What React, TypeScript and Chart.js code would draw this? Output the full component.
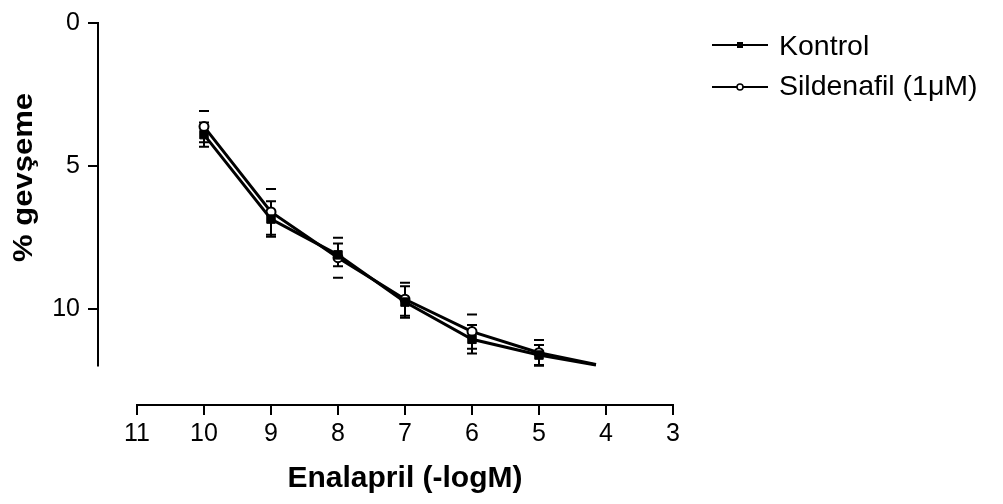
import React, { useEffect, useRef } from "react";
import { Chart, registerables } from "chart.js";

Chart.register(...registerables);

// ---- data ----
const doses = [10, 9, 8, 7, 6, 5];
const kontrol = [3.9, 6.85, 8.1, 9.75, 11.05, 11.6];
const kontrolSem = [0.42, 0.62, 0.4, 0.55, 0.5, 0.35];
const sildenafil = [3.62, 6.6, 8.2, 9.65, 10.78, 11.52];
const sildenafilSem = [0.55, 0.8, 0.7, 0.58, 0.6, 0.45];
const fitEndDose = 4.15;
const kontrolFitEnd = 11.95;
const sildenafilFitEnd = 11.93;
const xTicks = [11, 10, 9, 8, 7, 6, 5, 4, 3];
const yTicks = [0, 5, 10];
const yAxisEnd = 12;
const seriesLabels = ["Kontrol", "Sildenafil (1\u03bcM)"];
const xTitle = "Enalapril (-logM)";
const yTitle = "% gev\u015feme";

const FONT = '"Liberation Sans", Arial, Helvetica, sans-serif';

const toPoints = (vals: number[], end: number) =>
  [...vals.map((v, i) => ({ x: doses[i], y: v })), { x: fitEndDose, y: end }];

const decorPlugin = {
  id: "decor",
  beforeDatasetsDraw(chart: any) {
    const { ctx, scales } = chart;
    const x = scales.x;
    const y = scales.y;
    ctx.save();
    ctx.strokeStyle = "#000";
    ctx.lineWidth = 2;
    const drawBars = (vals: number[], errs: number[], stem: boolean) => {
      vals.forEach((v, i) => {
        const px = x.getPixelForValue(doses[i]);
        const top = y.getPixelForValue(v - errs[i]);
        const bot = y.getPixelForValue(v + errs[i]);
        ctx.beginPath();
        if (stem) {
          ctx.moveTo(px, top);
          ctx.lineTo(px, bot);
        }
        ctx.moveTo(px - 5, top);
        ctx.lineTo(px + 5, top);
        ctx.moveTo(px - 5, bot);
        ctx.lineTo(px + 5, bot);
        ctx.stroke();
      });
    };
    drawBars(kontrol, kontrolSem, true);
    drawBars(sildenafil, sildenafilSem, false);
    ctx.restore();
  },
  afterDraw(chart: any) {
    const { ctx, scales, chartArea } = chart;
    const x = scales.x;
    const y = scales.y;
    ctx.save();
    ctx.strokeStyle = "#000";
    ctx.fillStyle = "#000";
    ctx.lineWidth = 2;
    // axis lines
    ctx.beginPath();
    ctx.moveTo(chartArea.left, y.getPixelForValue(0) - 1);
    ctx.lineTo(chartArea.left, y.getPixelForValue(yAxisEnd));
    ctx.moveTo(x.getPixelForValue(xTicks[0]) - 1, chartArea.bottom);
    ctx.lineTo(x.getPixelForValue(xTicks[xTicks.length - 1]) + 1, chartArea.bottom);
    ctx.stroke();

    // x title
    const xc = (x.getPixelForValue(xTicks[0]) + x.getPixelForValue(xTicks[xTicks.length - 1])) / 2;
    ctx.font = `bold 30px ${FONT}`;
    ctx.textAlign = "center";
    ctx.textBaseline = "alphabetic";
    ctx.fillText(xTitle, xc, 487);

    // y title (rotated)
    ctx.save();
    ctx.translate(32, 177.5);
    ctx.rotate(-Math.PI / 2);
    ctx.font = `bold 27px ${FONT}`;
    const w = ctx.measureText(yTitle).width;
    ctx.scale(169 / w, 1);
    ctx.fillText(yTitle, 0, 0);
    ctx.restore();

    // legend
    const rows = [45, 87];
    const baselines = [55, 95];
    ctx.font = `28.5px ${FONT}`;
    ctx.textAlign = "left";
    rows.forEach((ry, i) => {
      ctx.beginPath();
      ctx.lineWidth = 2;
      ctx.moveTo(712, ry);
      ctx.lineTo(768, ry);
      ctx.stroke();
      if (i === 0) {
        ctx.fillRect(737, ry - 3, 6, 6);
      } else {
        ctx.beginPath();
        ctx.arc(740, ry, 3, 0, Math.PI * 2);
        ctx.fillStyle = "#fff";
        ctx.fill();
        ctx.lineWidth = 1.5;
        ctx.stroke();
        ctx.fillStyle = "#000";
      }
      ctx.fillText(seriesLabels[i], 779, baselines[i]);
    });
    ctx.restore();
  },
};

export default function App() {
  const ref = useRef<HTMLCanvasElement>(null);
  useEffect(() => {
    if (!ref.current) return;
    const chart = new Chart(ref.current, {
      type: "line",
      data: {
        datasets: [
          {
            label: seriesLabels[0],
            data: toPoints(kontrol, kontrolFitEnd),
            borderColor: "#000",
            backgroundColor: "#000",
            borderWidth: 3,
            pointStyle: "rect",
            pointRadius: [...doses.map(() => 6), 0],
            pointBorderWidth: 1,
            pointBackgroundColor: "#000",
            pointBorderColor: "#000",
            tension: 0,
          },
          {
            label: seriesLabels[1],
            data: toPoints(sildenafil, sildenafilFitEnd),
            borderColor: "#000",
            backgroundColor: "#fff",
            borderWidth: 3,
            pointStyle: "circle",
            pointRadius: [...doses.map(() => 4.5), 0],
            pointBorderWidth: 2,
            pointBackgroundColor: "#fff",
            pointBorderColor: "#000",
            tension: 0,
          },
        ],
      },
      plugins: [decorPlugin],
      options: {
        animation: false,
        responsive: false,
        devicePixelRatio: 1,
        layout: { padding: { left: 0, top: 18, right: 330, bottom: 0 } },
        plugins: { legend: { display: false }, tooltip: { enabled: false } },
        scales: {
          x: {
            type: "linear",
            reverse: true,
            min: 3,
            max: 11 + 39 / 67,
            afterBuildTicks: (s: any) => {
              s.ticks = xTicks.map((v) => ({ value: v }));
            },
            afterFit: (s: any) => {
              s.height = 99;
            },
            border: { display: false },
            grid: {
              drawOnChartArea: false,
              drawTicks: true,
              tickLength: 10,
              color: "#000",
              lineWidth: 2,
            },
            ticks: {
              color: "#000",
              font: { family: FONT, size: 25 },
              padding: 4,
              maxRotation: 0,
              autoSkip: false,
            },
          },
          y: {
            type: "linear",
            reverse: true,
            min: 0,
            max: (405 - 18) / 29,
            afterBuildTicks: (s: any) => {
              s.ticks = yTicks.map((v) => ({ value: v }));
            },
            afterFit: (s: any) => {
              s.width = 98;
            },
            border: { display: false },
            grid: {
              drawOnChartArea: false,
              drawTicks: true,
              tickLength: 10,
              color: "#000",
              lineWidth: 2,
            },
            ticks: {
              color: "#000",
              font: { family: FONT, size: 25 },
              padding: 8,
              autoSkip: false,
            },
          },
        },
      },
    });
    return () => chart.destroy();
  }, []);
  return (
    <div style={{ position: "fixed", left: 0, top: 0, width: 1003, height: 504, background: "#fff" }}>
      <canvas ref={ref} width={1003} height={504} style={{ display: "block" }} />
    </div>
  );
}
